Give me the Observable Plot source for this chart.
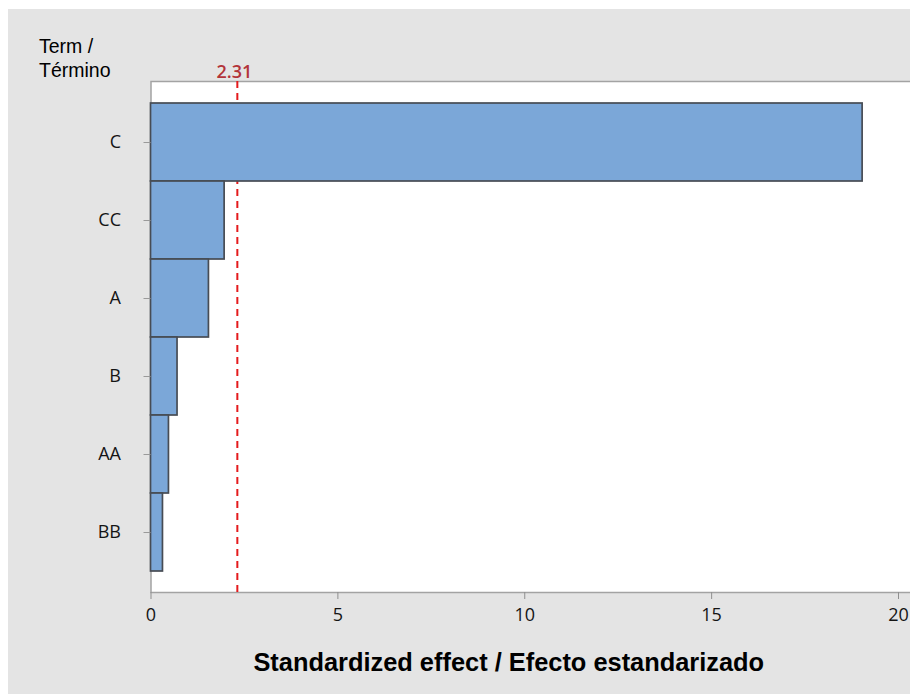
<!DOCTYPE html>
<html>
<head>
<meta charset="utf-8">
<script src="https://cdn.jsdelivr.net/npm/d3@7"></script>
<script src="https://cdn.jsdelivr.net/npm/@observablehq/plot@0.6"></script>
<style>
  html, body { margin: 0; padding: 0; background: #ffffff; }
  body { width: 910px; height: 694px; position: relative; overflow: hidden; }
  #panel { position: absolute; left: 8px; top: 9px; width: 902px; height: 685px; background: #e4e4e4; overflow: hidden; }
  #panel svg { overflow: visible; }
</style>
</head>
<body>
<div id="panel"></div>
<script>
const terms = ["C", "CC", "A", "B", "AA", "BB"];
const effects = [19.04, 1.97, 1.55, 0.71, 0.48, 0.32];
const critical = 2.31;
const criticalLabel = "2.31";
const xTicks = [0, 5, 10, 15, 20];
const xTitle = "Standardized effect / Efecto estandarizado";
const yTitle = "Term /\nTérmino";

const data = terms.map((t, i) => ({term: t, value: effects[i]}));

const chart = Plot.plot({
  width: 902,
  height: 685,
  marginLeft: 142.5,
  marginRight: 12,
  marginTop: 72,
  marginBottom: 102,
  style: {background: "transparent", overflow: "visible"},
  x: {domain: [0, 20], ticks: xTicks},
  y: {domain: terms, paddingInner: 0, paddingOuter: 0.25},
  marks: [
    Plot.frame({fill: "#ffffff", stroke: "#a3a3a3", strokeWidth: 1.5, insetRight: -20}),
    Plot.ruleX([critical], {stroke: "#e41a1c", strokeWidth: 2, strokeDasharray: "7,5"}),
    Plot.barX(data, {x: "value", y: "term", fill: "#7ba7d8", stroke: "#474c54", strokeWidth: 1.7}),
    Plot.axisX({ticks: xTicks, tickSize: 7, tickPadding: 9, stroke: "#8f8f8f", fill: "#141414", fontSize: 18, fontWeight: 500, fontFamily: "'Open Sans', 'DejaVu Sans', sans-serif", label: null, tickFormat: d => String(d)}),
    Plot.axisY({tickSize: 7, tickPadding: 23, stroke: "#9a9a9a", fill: "#141414", fontSize: 18, fontWeight: 500, fontFamily: "'Open Sans', 'DejaVu Sans', sans-serif", label: null}),
    Plot.text([criticalLabel], {x: [critical], frameAnchor: "top", lineAnchor: "bottom", dy: -4, dx: -3, fill: "#b3343a", fontSize: 18, fontWeight: 600, fontFamily: "'Open Sans', 'DejaVu Sans', sans-serif"}),
    Plot.text([xTitle], {frameAnchor: "bottom", lineAnchor: "bottom", dy: 78, dx: -16, fontSize: 25.4, fontWeight: "bold", fill: "#000", fontFamily: "'Liberation Sans', Arial, sans-serif"}),
    Plot.text([yTitle], {frameAnchor: "top-left", textAnchor: "start", lineAnchor: "bottom", dx: -112, dy: -5, lineHeight: 1.2, fontSize: 19.5, fill: "#000", fontFamily: "'Liberation Sans', Arial, sans-serif"})
  ]
});
document.getElementById("panel").appendChild(chart);
</script>
</body>
</html>
